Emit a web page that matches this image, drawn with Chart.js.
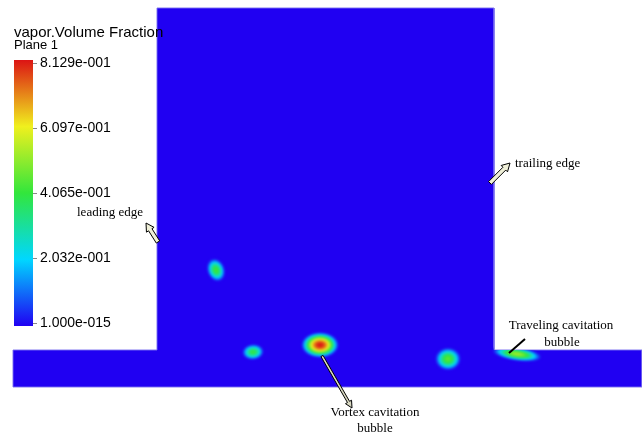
<!DOCTYPE html>
<html>
<head>
<meta charset="utf-8">
<script src="https://cdn.jsdelivr.net/npm/chart.js@4.4.1/dist/chart.umd.min.js"></script>
<style>
html, body { margin: 0; padding: 0; background: #fff; }
canvas { display: block; }
</style>
</head>
<body>
<canvas id="c" width="642" height="436"></canvas>
<script>
// Domaine de calcul (contour), unites = pixels de l'image
const domainX = [157, 494, 494, 642, 642, 13, 13, 157, 157];
const domainY = [8, 8, 350, 350, 387, 387, 350, 350, 8];

// Bulles de cavitation (fraction volumique de vapeur)
const bubbleX = [216, 253, 320, 448, 517];
const bubbleY = [270, 352, 345, 359, 354];
const bubbleRx = [9, 11, 19, 13, 25];
const bubbleRy = [12, 8, 13, 11.5, 7];
const bubbleAngle = [-20, -5, 0, 0, 8];
const bubblePeak = [0.42, 0.40, 0.8129, 0.45, 0.52];

// Echelle de couleur
const cbMin = 1e-15;
const cbMax = 0.8129;
const cbTicks = [1e-15, 0.2032, 0.4065, 0.6097, 0.8129];
const cbLabels = ['1.000e-015', '2.032e-001', '4.065e-001', '6.097e-001', '8.129e-001'];

const jetStops = [
    [32, 0, 242],
    [0, 215, 255],
    [50, 230, 60],
    [240, 240, 30],
    [220, 20, 20]
];

const jet = (v) => {
    var t = Math.max(0, Math.min(1, (v - cbMin) / (cbMax - cbMin)));
    var s = t * (jetStops.length - 1);
    var i = Math.min(jetStops.length - 2, Math.floor(s));
    var f = s - i;
    var a = jetStops[i], b = jetStops[i + 1];
    return 'rgb(' + [0, 1, 2].map(k => Math.round(a[k] + (b[k] - a[k]) * f)).join(',') + ')';
};

const domainPath = (ctx, sx, sy) => {
    ctx.beginPath();
    for (var i = 0; i < domainX.length; i++) {
        var x = sx.getPixelForValue(domainX[i]);
        var y = sy.getPixelForValue(domainY[i]);
        if (i == 0) ctx.moveTo(x, y); else ctx.lineTo(x, y);
    }
    ctx.closePath();
};

// fleche creuse (contour noir, interieur clair)
const hollowArrow = (ctx, x1, y1, x2, y2, hw, headW, headL, fill) => {
    var dx = x2 - x1, dy = y2 - y1;
    var len = Math.sqrt(dx * dx + dy * dy);
    var ux = dx / len, uy = dy / len;
    var nx = -uy, ny = ux;
    var bx = x2 - ux * headL, by = y2 - uy * headL;
    ctx.beginPath();
    ctx.moveTo(x1 + nx * hw, y1 + ny * hw);
    ctx.lineTo(bx + nx * hw, by + ny * hw);
    ctx.lineTo(bx + nx * headW, by + ny * headW);
    ctx.lineTo(x2, y2);
    ctx.lineTo(bx - nx * headW, by - ny * headW);
    ctx.lineTo(bx - nx * hw, by - ny * hw);
    ctx.lineTo(x1 - nx * hw, y1 - ny * hw);
    ctx.closePath();
    ctx.fillStyle = fill;
    ctx.fill();
    ctx.strokeStyle = '#000';
    ctx.lineWidth = 1;
    ctx.stroke();
};

const bubblesPlugin = {
    id: 'bubbles',
    afterDatasetsDraw: (chart) => {
        var ctx = chart.ctx, sx = chart.scales.x, sy = chart.scales.y;
        ctx.save();
        domainPath(ctx, sx, sy);
        ctx.clip();
        ctx.filter = 'blur(1px)';
        for (var i = 0; i < bubbleX.length; i++) {
            var cx = sx.getPixelForValue(bubbleX[i]);
            var cy = sy.getPixelForValue(bubbleY[i]);
            var rx = Math.abs(sx.getPixelForValue(bubbleX[i] + bubbleRx[i]) - cx);
            var ry = Math.abs(sy.getPixelForValue(bubbleY[i] + bubbleRy[i]) - cy);
            ctx.save();
            ctx.translate(cx, cy);
            ctx.rotate(bubbleAngle[i] * Math.PI / 180);
            ctx.scale(rx, ry);
            var g = ctx.createRadialGradient(0, 0, 0, 0, 0, 1);
            for (var k = 0; k <= 20; k++) {
                var s = k / 20;
                var v = bubblePeak[i] * Math.pow(1 - s * s, 1.4);
                g.addColorStop(s, jet(v));
            }
            ctx.fillStyle = g;
            ctx.beginPath();
            ctx.arc(0, 0, 1, 0, Math.PI * 2);
            ctx.fill();
            ctx.restore();
        }
        ctx.restore();
    }
};

const overlayPlugin = {
    id: 'overlay',
    afterDraw: (chart) => {
        var ctx = chart.ctx, sx = chart.scales.x, sy = chart.scales.y;
        var X = (v) => sx.getPixelForValue(v);
        var Y = (v) => sy.getPixelForValue(v);
        ctx.save();

        // barre de couleur
        var cbY = (v) => Y(323 - (v - cbMin) / (cbMax - cbMin) * 260);
        var top = cbY(cbMax) - 3, bot = cbY(cbMin) + 3;
        var lg = ctx.createLinearGradient(0, bot, 0, top);
        for (var k = 0; k <= 20; k++) {
            lg.addColorStop(k / 20, jet(cbMin + (cbMax - cbMin) * k / 20));
        }
        ctx.fillStyle = lg;
        ctx.fillRect(X(14), top, X(33) - X(14), bot - top);

        ctx.fillStyle = '#000';
        ctx.font = '14px "Liberation Sans", Arial, sans-serif';
        ctx.textBaseline = 'middle';
        ctx.textAlign = 'left';
        ctx.strokeStyle = '#888';
        ctx.lineWidth = 1;
        for (var i = 0; i < cbTicks.length; i++) {
            var ty = Math.round(cbY(cbTicks[i])) + 0.5;
            ctx.beginPath();
            ctx.moveTo(X(33), ty);
            ctx.lineTo(X(37), ty);
            ctx.stroke();
            ctx.fillText(cbLabels[i], X(40), ty);
        }

        ctx.font = '15px "Liberation Sans", Arial, sans-serif';
        ctx.fillText('vapor.Volume Fraction', X(14), Y(33));
        ctx.font = '13px "Liberation Sans", Arial, sans-serif';
        ctx.fillText('Plane 1', X(14), Y(45));

        // annotations
        ctx.font = '13px "Liberation Serif", "Times New Roman", serif';
        ctx.textAlign = 'left';
        ctx.fillText('leading edge', X(77), Y(213));
        ctx.fillText('trailing edge', X(515), Y(164));
        ctx.textAlign = 'center';
        ctx.fillText('Traveling cavitation', X(561), Y(326));
        ctx.fillText('bubble', X(562), Y(343));
        ctx.fillText('Vortex cavitation', X(375), Y(413));
        ctx.fillText('bubble', X(375), Y(429));

        hollowArrow(ctx, X(158), Y(242), X(146), Y(223), 2, 4.5, 8, '#f0f0d8');
        hollowArrow(ctx, X(490), Y(183), X(510), Y(163), 2, 4.5, 8, '#f0f0d8');
        hollowArrow(ctx, X(322), Y(356), X(352), Y(408), 1.2, 3.5, 7, '#d8d8c0');

        ctx.strokeStyle = '#000';
        ctx.lineWidth = 2;
        ctx.beginPath();
        ctx.moveTo(X(509), Y(353));
        ctx.lineTo(X(525), Y(339));
        ctx.stroke();
        ctx.restore();
    }
};

new Chart(document.getElementById('c'), {
    type: 'scatter',
    data: {
        datasets: [{
            label: 'domain',
            data: domainX.map((x, i) => ({ x: x, y: domainY[i] })),
            showLine: true,
            tension: 0,
            fill: 'shape',
            backgroundColor: 'rgb(32, 0, 242)',
            borderColor: 'rgba(120, 110, 240, 0.9)',
            borderWidth: 1,
            pointRadius: 0
        }]
    },
    options: {
        responsive: false,
        animation: false,
        layout: { padding: 0 },
        scales: {
            x: { type: 'linear', min: 0, max: 642, display: false },
            y: { type: 'linear', min: 0, max: 436, reverse: true, display: false }
        },
        plugins: {
            legend: { display: false },
            tooltip: { enabled: false }
        }
    },
    plugins: [bubblesPlugin, overlayPlugin]
});
</script>
</body>
</html>
